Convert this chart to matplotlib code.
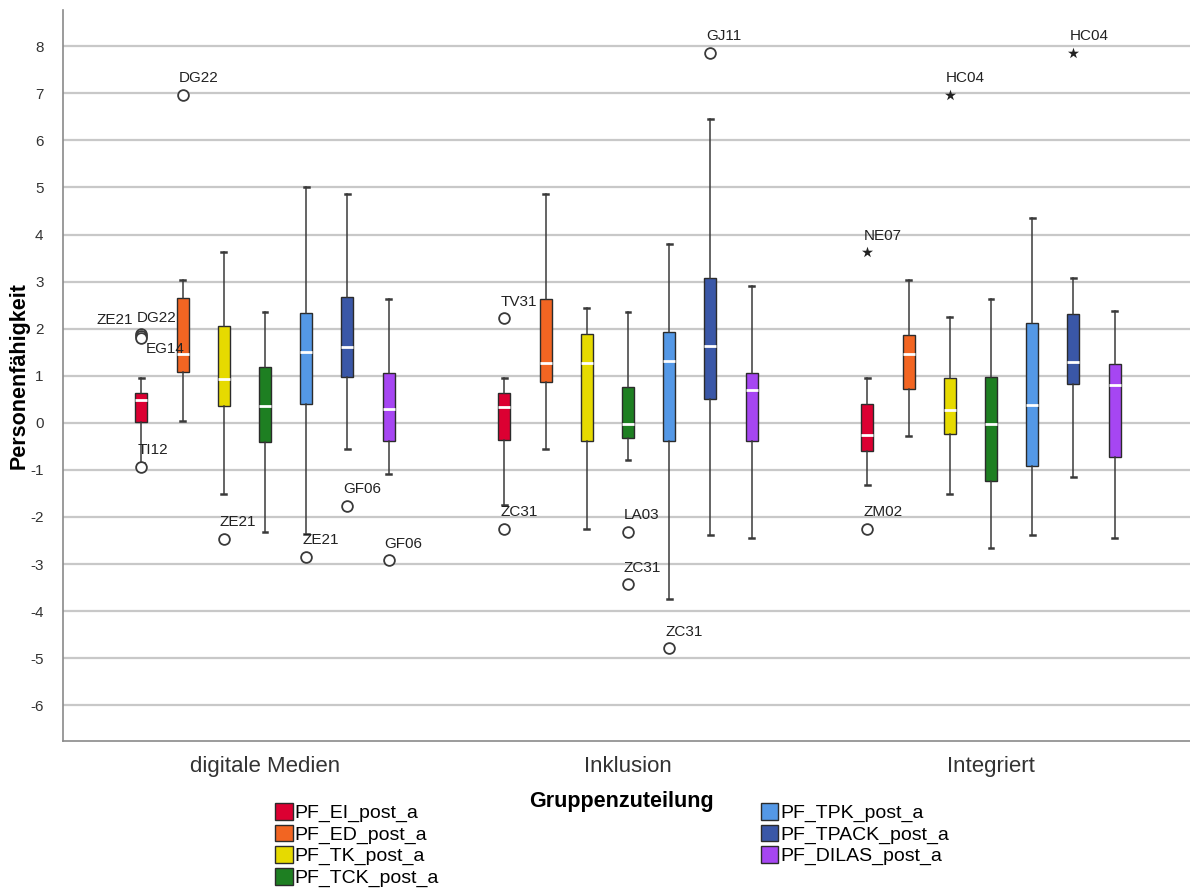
import matplotlib
matplotlib.use("Agg")
import matplotlib.pyplot as plt
from matplotlib.patches import Patch

plt.rcParams['font.family'] = ['Liberation Sans', 'DejaVu Sans']
plt.rcParams['axes.unicode_minus'] = False

# ---- data -------------------------------------------------------------
groups = ['digitale Medien', 'Inklusion', 'Integriert']
series = ['PF_EI_post_a', 'PF_ED_post_a', 'PF_TK_post_a', 'PF_TCK_post_a',
          'PF_TPK_post_a', 'PF_TPACK_post_a', 'PF_DILAS_post_a']

# one row per series, one column per group
q1 = [[0.02, -0.37, -0.60],
      [1.07, 0.86, 0.71],
      [0.36, -0.38, -0.23],
      [-0.41, -0.32, -1.23],
      [0.39, -0.38, -0.92],
      [0.98, 0.50, 0.82],
      [-0.38, -0.38, -0.72]]
median = [[0.48, 0.34, -0.25],
          [1.47, 1.27, 1.47],
          [0.94, 1.27, 0.28],
          [0.36, -0.02, -0.03],
          [1.51, 1.31, 0.37],
          [1.62, 1.63, 1.29],
          [0.30, 0.69, 0.81]]
q3 = [[0.64, 0.64, 0.41],
      [2.65, 2.64, 1.86],
      [2.06, 1.88, 0.95],
      [1.19, 0.76, 0.98],
      [2.34, 1.92, 2.13],
      [2.68, 3.07, 2.31],
      [1.05, 1.05, 1.25]]
whisker_low = [[-0.85, -1.75, -1.33],
               [0.03, -0.56, -0.28],
               [-1.51, -2.26, -1.52],
               [-2.32, -0.78, -2.65],
               [-2.37, -3.75, -2.39],
               [-0.56, -2.39, -1.16],
               [-1.08, -2.44, -2.44]]
whisker_high = [[0.95, 0.95, 0.95],
                [3.04, 4.87, 3.03],
                [3.62, 2.43, 2.25],
                [2.36, 2.36, 2.63],
                [5.00, 3.79, 4.35],
                [4.86, 6.46, 3.07],
                [2.63, 2.90, 2.37]]

# (group, series, value, case id, kind) ; kind 'o' = outlier, '*' = extreme
outliers = [
    (0, 0, 1.88, 'ZE21', 'o'), (0, 0, 1.84, 'DG22', 'o'), (0, 0, 1.80, 'EG14', 'o'),
    (0, 0, -0.94, 'TI12', 'o'),
    (0, 1, 6.97, 'DG22', 'o'),
    (0, 2, -2.47, 'ZE21', 'o'),
    (0, 4, -2.84, 'ZE21', 'o'),
    (0, 5, -1.76, 'GF06', 'o'),
    (0, 6, -2.92, 'GF06', 'o'),
    (1, 0, 2.22, 'TV31', 'o'), (1, 0, -2.26, 'ZC31', 'o'),
    (1, 3, -2.32, 'LA03', 'o'), (1, 3, -3.43, 'ZC31', 'o'),
    (1, 4, -4.79, 'ZC31', 'o'),
    (1, 5, 7.86, 'GJ11', 'o'),
    (2, 0, 3.62, 'NE07', '*'), (2, 0, -2.26, 'ZM02', 'o'),
    (2, 2, 6.96, 'HC04', '*'),
    (2, 5, 7.86, 'HC04', '*'),
]

colors = ['#DC0032', '#F26522', '#E6DA00', '#1E7F22',
          '#5498E6', '#3A57A7', '#A646F2']

# ---- figure -----------------------------------------------------------
fig = plt.figure(figsize=(11.9, 8.94), dpi=100)
ax = fig.add_axes([0.0529, 0.1711, 0.9471, 0.8177])

step = 0.1135
width = 0.033


def xpos(g, s):
    return g + (s - 3) * step


for s, name in enumerate(series):
    stats = []
    pos = []
    for g in range(len(groups)):
        stats.append(dict(med=median[s][g], q1=q1[s][g], q3=q3[s][g],
                          whislo=whisker_low[s][g], whishi=whisker_high[s][g],
                          fliers=[]))
        pos.append(xpos(g, s))
    ax.bxp(stats, positions=pos, widths=width, patch_artist=True,
           showfliers=False, capwidths=width * 0.4,
           boxprops=dict(facecolor=colors[s], edgecolor='#2b2b2b', linewidth=1.0),
           medianprops=dict(color='white', linewidth=2.0),
           whiskerprops=dict(color='#3a3a3a', linewidth=1.1),
           capprops=dict(color='#3a3a3a', linewidth=1.8),
           zorder=3)

# label offsets in points (dx, dy, ha) for crowded cases
label_offset = {
    (0, 0, 'ZE21'): (-6, 5, 'right'),
    (0, 0, 'DG22'): (-3, 8, 'left'),
    (0, 0, 'EG14'): (3, -13, 'left'),
}

for g, s, v, lab, kind in outliers:
    x = xpos(g, s)
    if kind == 'o':
        ax.scatter([x], [v], s=60, marker='o', facecolor='white',
                   edgecolor='#3a3a3a', linewidth=1.3, zorder=4)
    else:
        ax.scatter([x], [v], s=70, marker='*', color='#222222',
                   linewidth=0, zorder=4)
    dx, dy, ha = label_offset.get((g, s, lab), (-3, 7, 'left'))
    ax.annotate(lab, (x, v), xytext=(dx, dy), textcoords='offset points',
                ha=ha, va='bottom', fontsize=11, color='#222222', zorder=5)

ax.set_xlim(-0.5565, 2.548)
ax.set_ylim(-6.76, 8.77)
ax.set_yticks(range(-6, 9))
ax.set_xticks(range(len(groups)))
ax.set_xticklabels(groups, fontsize=16, color='#333333')
ax.tick_params(axis='y', length=0, pad=14, labelsize=11, labelcolor='#333333')
ax.tick_params(axis='x', length=0, pad=11)
ax.yaxis.grid(True, color='#c8c8c8', linewidth=1.6, zorder=0)
ax.set_axisbelow(True)
for side in ('top', 'right'):
    ax.spines[side].set_visible(False)
for side in ('left', 'bottom'):
    ax.spines[side].set_color('#8a8a8a')
    ax.spines[side].set_linewidth(1.2)

ax.set_ylabel('Personenfähigkeit', fontsize=15.5, fontweight='bold', labelpad=0)
fig.text(0.5225, 1 - 802 / 894, 'Gruppenzuteilung', ha='center', va='center',
         fontsize=15.5, fontweight='bold')

handles = [Patch(facecolor=c, edgecolor='#2b2b2b', label=n)
           for c, n in zip(colors, series)]
common = dict(frameon=False, fontsize=14, handlelength=0.9, handleheight=0.95,
              handletextpad=0.12, labelspacing=0.12, borderaxespad=0, borderpad=0)
fig.legend(handles=handles[:4], loc='upper left',
           bbox_to_anchor=(275 / 1190, 1 - 803 / 894), **common)
fig.legend(handles=handles[4:], loc='upper left',
           bbox_to_anchor=(761 / 1190, 1 - 803 / 894), **common)

fig.savefig('out.png', dpi=100)
